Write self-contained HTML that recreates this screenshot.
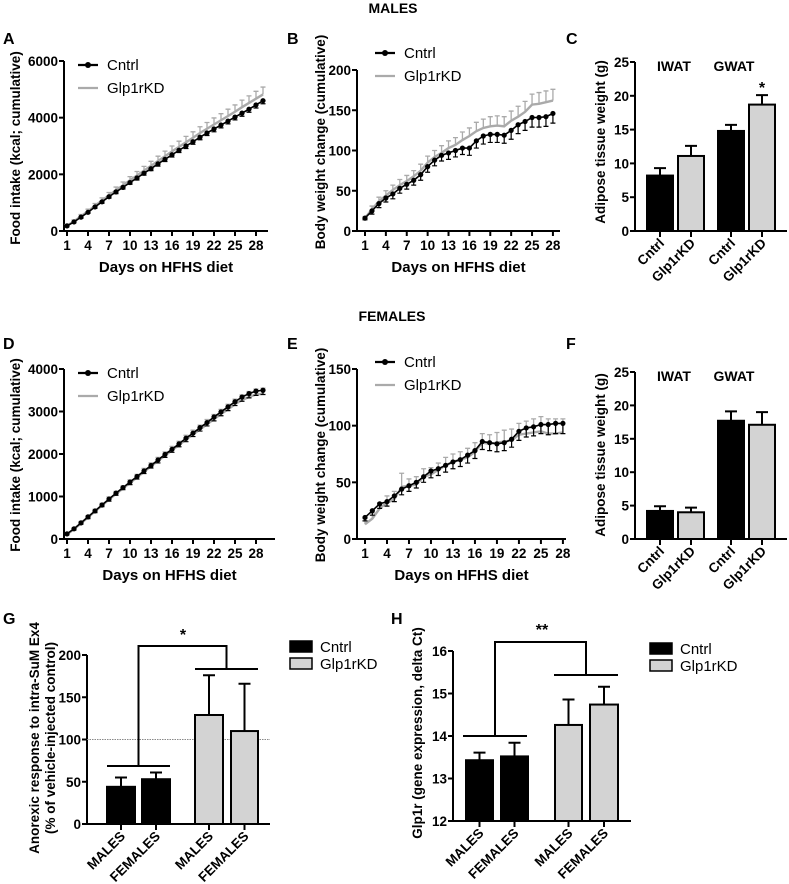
<!DOCTYPE html>
<html><head><meta charset="utf-8"><style>
body{margin:0;background:#fff}
svg{display:block;font-family:"Liberation Sans",Arial,sans-serif}
.b{font-weight:bold}
</style></head><body>
<svg id="fig" width="789" height="884" viewBox="0 0 789 884" xmlns="http://www.w3.org/2000/svg">
<text x="393" y="13" text-anchor="middle" class="b" font-size="14">MALES</text>
<text x="392" y="321" text-anchor="middle" class="b" font-size="14">FEMALES</text>
<text x="3" y="44" class="b" font-size="16">A</text>
<text x="287" y="44" class="b" font-size="16">B</text>
<text x="566" y="44" class="b" font-size="16">C</text>
<text x="3" y="349" class="b" font-size="16">D</text>
<text x="287" y="349" class="b" font-size="16">E</text>
<text x="566" y="349" class="b" font-size="16">F</text>
<text x="3" y="624" class="b" font-size="16">G</text>
<text x="391" y="624" class="b" font-size="16">H</text>
</svg>
<script>
// ---- Data ----
const aCntrl=[180,320,490,660,850,1030,1210,1380,1540,1710,1870,2040,2200,2370,2530,2690,2850,3000,3150,3310,3460,3600,3740,3880,4020,4160,4300,4450,4600];
const aKD=[190,340,520,700,890,1080,1260,1440,1610,1790,1960,2130,2300,2470,2640,2810,2970,3130,3290,3460,3610,3760,3910,4060,4210,4370,4520,4670,4820];
const aCntrlErr=[30,30,40,40,50,50,50,60,60,60,70,70,70,80,80,80,80,90,90,90,90,100,100,100,100,110,110,110,110];
const aKDErr=[40,50,60,70,80,90,100,110,120,130,140,150,160,170,180,190,200,210,210,220,220,230,230,240,240,250,250,260,260];
const bCntrl=[16,25,34,41,46,53,58,63,70,80,88,94,97,100,103,103,112,118,120,120,119,125,132,136,141,141,142,146];
const bKD=[16,27,37,44,51,57,62,68,75,85,92,97,103,107,113,118,124,128,130,131,130,137,142,148,157,158,160,162];
const bCntrlErr=[2,4,5,5,6,6,6,6,7,7,7,7,8,8,8,9,9,10,10,10,10,11,11,11,12,12,12,12];
const bKDErr=[2,4,5,6,6,7,7,7,8,8,8,9,9,9,10,10,11,11,12,12,12,12,13,13,13,14,14,14];
const dCntrl=[120,240,380,520,660,800,940,1080,1210,1340,1470,1600,1730,1860,1990,2110,2240,2370,2490,2620,2740,2870,2990,3110,3230,3340,3420,3480,3500];
const dKD=[110,230,370,510,650,790,930,1060,1190,1320,1450,1580,1710,1840,1960,2090,2210,2340,2460,2580,2700,2820,2940,3050,3170,3270,3340,3400,3420];
const dCntrlErr=[20,30,30,40,40,40,50,50,50,60,60,60,60,70,70,70,70,80,80,80,80,90,90,90,90,100,100,100,100];
const dKDErr=[20,30,40,40,50,50,60,60,60,70,70,80,80,80,90,90,90,100,100,100,110,110,110,120,120,120,130,130,130];
const eCntrl=[19,25,31,33,38,44,47,50,55,60,62,65,68,70,74,78,86,85,84,85,88,95,98,99,101,101,102,102];
const eKD=[13,18,27,32,35,46,47,48,55,57,61,65,68,70,72,77,85,84,85,86,87,92,93,94,95,93,93,94];
const eCntrlErr=[3,4,4,4,5,5,5,5,5,6,6,6,6,6,7,7,7,7,7,7,7,8,8,8,8,9,9,9];
const eKDErr=[5,5,5,6,7,12,6,7,7,6,6,7,7,7,8,8,8,8,9,10,10,10,11,12,13,13,13,12];
const dayTicks=[1,4,7,10,13,16,19,22,25,28];
const adiposeCats=["Cntrl","Glp1rKD","Cntrl","Glp1rKD"];
const cValues=[8.2,11.1,14.8,18.7];
const cErr=[1.1,1.5,0.9,1.4];
const fValues=[4.2,4.0,17.7,17.1];
const fErr=[0.7,0.7,1.4,1.9];
const sexCats=["MALES","FEMALES","MALES","FEMALES"];
const gValues=[44,53,129,110];
const gErr=[11,8,47,56];
const hValues=[13.43,13.52,14.26,14.74];
const hErr=[0.18,0.32,0.6,0.42];
const adiposeColors=["#000","#d3d3d3","#000","#d3d3d3"];
const groupColors=["#000","#000","#d3d3d3","#d3d3d3"];

const svg=document.getElementById('fig');
const NS='http://www.w3.org/2000/svg';
function mk(tag,attrs,parent){const e=document.createElementNS(NS,tag);for(const k in attrs)e.setAttribute(k,attrs[k]);(parent||svg).appendChild(e);return e;}
function txt(s,attrs,parent){const e=mk('text',attrs,parent);e.textContent=s;return e;}

function yAxis(g,ax,yTop,yBot,ticks,scale){
  const l=mk('line',{x1:ax,y1:yTop,x2:ax,y2:yBot,stroke:'#000','stroke-width':2},g);
  
  
  ticks.forEach(t=>{
    const y=scale(t);
    mk('line',{x1:ax-5,y1:y,x2:ax,y2:y,stroke:'#000','stroke-width':2},g);
    const tl=txt(String(t),{x:ax-6,y:y+5,'text-anchor':'end','font-size':13.5,'font-weight':'bold'},g);
    
    
  });
}
function yTitle(g,lines,x,y,size){
  lines.forEach((s,i)=>{
    const t=txt(s,{x:0,y:0,transform:`translate(${x+i*16},${y}) rotate(-90)`,'text-anchor':'middle','font-size':size||13.5,'font-weight':'bold'},g);
    
    
  });
}

function lineChart(o){
  const g=mk('g',{});
  
  
  const ys=v=>o.yBot-(v/o.yMax)*(o.yBot-o.yTop);
  const xs=d=>o.x1+(d-1)*o.dx;
  yAxis(g,o.ax,o.yTop,o.yBot,o.yTicks,ys);
  const xl=mk('line',{x1:o.ax,y1:o.yBot,x2:o.xEnd,y2:o.yBot,stroke:'#000','stroke-width':2},g);
  
  
  dayTicks.forEach(d=>{
    const x=xs(d);
    mk('line',{x1:x,y1:o.yBot,x2:x,y2:o.yBot+5,stroke:'#000','stroke-width':2},g);
    const t=txt(String(d),{x:x,y:o.yBot+19,'text-anchor':'middle','font-size':13.5,'font-weight':'bold'},g);
    
    
  });
  const xt=txt('Days on HFHS diet',{x:(o.ax+o.xEnd)/2,y:o.yBot+41,'text-anchor':'middle','font-size':15,'font-weight':'bold'},g);
  
  
  yTitle(g,[o.yTitle],o.ytX,o.ytY);
  o.kd.forEach((v,i)=>{const x=xs(i+1),y=ys(v),y2=ys(v+o.kdErr[i]);
    mk('path',{d:`M${x},${y}V${y2}M${x-2.5},${y2}H${x+2.5}`,stroke:'#aaa','stroke-width':1.3,fill:'none'},g);});
  const kdl=mk('polyline',{points:o.kd.map((v,i)=>xs(i+1)+','+ys(v)).join(' '),fill:'none',stroke:'#aaa','stroke-width':2.4},g);
  
  
  o.c.forEach((v,i)=>{const x=xs(i+1),y=ys(v),y2=ys(v-o.cErr[i]);
    mk('path',{d:`M${x},${y}V${y2}M${x-2.5},${y2}H${x+2.5}`,stroke:'#000','stroke-width':1.2,fill:'none'},g);});
  const cl=mk('polyline',{points:o.c.map((v,i)=>xs(i+1)+','+ys(v)).join(' '),fill:'none',stroke:'#000','stroke-width':1.6},g);
  
  
  o.c.forEach((v,i)=>{const p=mk('circle',{cx:xs(i+1),cy:ys(v),r:2.6,fill:'#000'},g);
    
    });
  const lg=mk('g',{},g);
  
  
  mk('line',{x1:o.lx,y1:o.ly,x2:o.lx+20,y2:o.ly,stroke:'#000','stroke-width':2.2},lg);
  mk('circle',{cx:o.lx+10,cy:o.ly,r:3,fill:'#000'},lg);
  const l1=txt('Cntrl',{x:o.lx+29,y:o.ly+5,'font-size':15},lg);
  
  
  mk('line',{x1:o.lx,y1:o.ly+23,x2:o.lx+20,y2:o.ly+23,stroke:'#aaa','stroke-width':2.2},lg);
  const l2=txt('Glp1rKD',{x:o.lx+29,y:o.ly+28,'font-size':15},lg);
  
  
}

function barChart(o){
  const g=mk('g',{});
  
  
  const ys=v=>o.yBot-((v-o.yMin)/(o.yMax-o.yMin))*(o.yBot-o.yTop);
  yAxis(g,o.ax,o.yTop,o.yBot,o.yTicks,ys);
  if(o.ref!==undefined){
    const r=mk('line',{x1:o.ax,y1:ys(o.ref),x2:o.xEnd,y2:ys(o.ref),stroke:'#888','stroke-width':1,'stroke-dasharray':'1.5,1'},g);
    
    
  }
  o.values.forEach((v,i)=>{
    const x0=o.bars[i][0],x1=o.bars[i][1],cx=(x0+x1)/2;
    const y=ys(v),ye=ys(v+o.err[i]);
    mk('path',{d:`M${cx},${y}V${ye}M${cx-6},${ye}H${cx+6}`,stroke:'#000','stroke-width':2,fill:'none'},g);
    const b=mk('rect',{x:x0,y:y,width:x1-x0,height:o.yBot-y,fill:o.colors[i],stroke:'#000','stroke-width':2},g);
    
    
    mk('line',{x1:cx,y1:o.yBot,x2:cx,y2:o.yBot+6,stroke:'#000','stroke-width':2},g);
    const t=txt(o.cats[i],{x:0,y:0,transform:`translate(${cx+5},${o.yBot+13}) rotate(-45)`,'text-anchor':'end','font-size':13.5,'font-weight':'bold'},g);
    
    
  });
  const xl=mk('line',{x1:o.ax,y1:o.yBot,x2:o.xEnd,y2:o.yBot,stroke:'#000','stroke-width':2},g);
  
  
  yTitle(g,o.yTitle,o.ytX,o.ytY,o.ytSize);
  return {g,ys};
}

lineChart({name:'panel-a-food-intake-males',ax:64,yTop:61,yBot:231,yMax:6000,yTicks:[0,2000,4000,6000],x1:67,dx:7,xEnd:268,
  c:aCntrl,kd:aKD,cErr:aCntrlErr,kdErr:aKDErr,yTitle:'Food intake (kcal; cumulative)',ytX:20,ytY:148,lx:78,ly:65});
lineChart({name:'panel-b-body-weight-males',ax:357,yTop:70,yBot:231,yMax:200,yTicks:[0,50,100,150,200],x1:365,dx:6.96,xEnd:560,
  c:bCntrl,kd:bKD,cErr:bCntrlErr,kdErr:bKDErr,yTitle:'Body weight change (cumulative)',ytX:325,ytY:142,lx:375,ly:53});
lineChart({name:'panel-d-food-intake-females',ax:64,yTop:369,yBot:539,yMax:4000,yTicks:[0,1000,2000,3000,4000],x1:67,dx:7,xEnd:275,
  c:dCntrl,kd:dKD,cErr:dCntrlErr,kdErr:dKDErr,yTitle:'Food intake (kcal; cumulative)',ytX:20,ytY:455,lx:78,ly:373});
lineChart({name:'panel-e-body-weight-females',ax:357,yTop:369,yBot:539,yMax:150,yTicks:[0,50,100,150],x1:365,dx:7.33,xEnd:566,
  c:eCntrl,kd:eKD,cErr:eCntrlErr,kdErr:eKDErr,yTitle:'Body weight change (cumulative)',ytX:325,ytY:455,lx:375,ly:362});

const adBars=[[647,673],[678,704],[718,744],[749,775]];
const C=barChart({name:'panel-c-adipose-males',ax:635,yTop:62,yBot:231,yMin:0,yMax:25,yTicks:[0,5,10,15,20,25],xEnd:787,colors:adiposeColors,
  values:cValues,err:cErr,bars:adBars,cats:adiposeCats,yTitle:['Adipose tissue weight (g)'],ytX:605,ytY:142});
const F=barChart({name:'panel-f-adipose-females',ax:635,yTop:372,yBot:539,yMin:0,yMax:25,yTicks:[0,5,10,15,20,25],xEnd:787,colors:adiposeColors,
  values:fValues,err:fErr,bars:adBars,cats:adiposeCats,yTitle:['Adipose tissue weight (g)'],ytX:605,ytY:455});
[[C.g,71],[F.g,381]].forEach(([g,y])=>{
  const a=txt('IWAT',{x:674,y:y,'text-anchor':'middle','font-size':14,'font-weight':'bold'},g);
  
  
  const b=txt('GWAT',{x:734,y:y,'text-anchor':'middle','font-size':14,'font-weight':'bold'},g);
  
  
});
const cs=txt('*',{x:762,y:93,'text-anchor':'middle','font-size':16,'font-weight':'bold'},C.g);



const G=barChart({name:'panel-g-anorexic-response',ax:87,yTop:655,yBot:824,yMin:0,yMax:200,yTicks:[0,50,100,150,200],xEnd:270,ref:100,colors:groupColors,
  values:gValues,err:gErr,bars:[[107,135],[142,170],[195,223],[231,258]],cats:sexCats,
  yTitle:['Anorexic response to intra-SuM Ex4','(% of vehicle-injected control)'],ytX:39,ytY:738,ytSize:13.5});
const H=barChart({name:'panel-h-glp1r-expression',ax:453,yTop:651,yBot:821,yMin:12,yMax:16,yTicks:[12,13,14,15,16],xEnd:631,colors:groupColors,
  values:hValues,err:hErr,bars:[[466,493],[501,528],[555,582],[590,618]],cats:sexCats,
  yTitle:['Glp1r (gene expression, delta Ct)'],ytX:422,ytY:733,ytSize:13.5});

function bracket(g,l1,l2,ly1,ly2,topY,star,sx,sy){
  const p=mk('path',{d:`M${l1[0]},${ly1}H${l1[1]}M${(l1[0]+l1[1])/2},${ly1}V${topY}H${(l2[0]+l2[1])/2}V${ly2}M${l2[0]},${ly2}H${l2[1]}`,stroke:'#000','stroke-width':2,fill:'none'},g);
  
  
  const t=txt(star,{x:sx,y:sy,'text-anchor':'middle','font-size':16,'font-weight':'bold'},g);
  
  
}
bracket(G.g,[107,170],[195,258],766,669,646,'*',183,640);
bracket(H.g,[463,527],[554,618],736,675,642,'**',542,635);

function boxLegend(g,x,y){
  const lg=mk('g',{},g);
  
  
  mk('rect',{x:x,y:y,width:22,height:11,fill:'#000',stroke:'#000','stroke-width':1.5},lg);
  const a=txt('Cntrl',{x:x+30,y:y+11,'font-size':15},lg);
  
  
  mk('rect',{x:x,y:y+17,width:22,height:11,fill:'#d3d3d3',stroke:'#000','stroke-width':1.5},lg);
  const b=txt('Glp1rKD',{x:x+30,y:y+28,'font-size':15},lg);
  
  
}
boxLegend(G.g,290,641);
boxLegend(H.g,650,643);
</script>
</body></html>
